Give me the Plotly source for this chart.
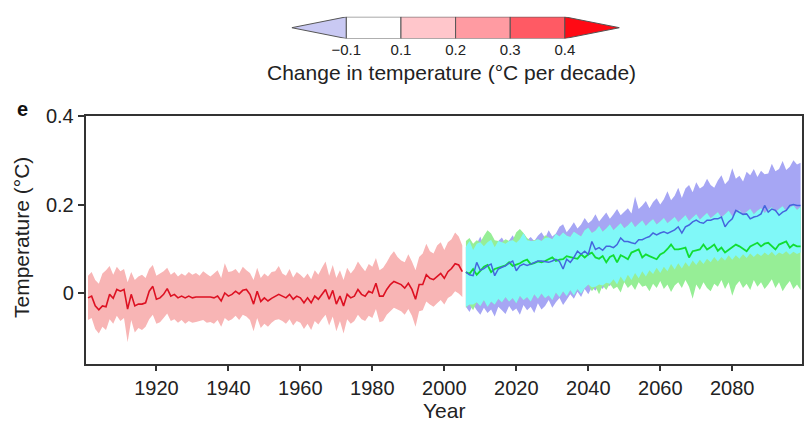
import numpy as np
import plotly.graph_objects as go

# ---------------------------------------------------------------- data
hist_years = list(range(1901, 2006))
hist_mean = [
    -0.010, -0.006, -0.028, -0.037, -0.028, -0.030, -0.002, -0.011, 0.009, 0.005,
    0.009, -0.035, -0.002, -0.028, -0.024, -0.024, -0.021, 0.005, 0.016, -0.013,
    -0.010, -0.002, 0.011, -0.006, -0.002, -0.010, -0.006, -0.010, -0.006, -0.010,
    -0.008, -0.008, -0.007, -0.008, -0.008, -0.010, -0.006, -0.017, 0.001, -0.006,
    -0.002, 0.005, -0.001, 0.007, 0.009, -0.002, -0.024, 0.005, -0.018, -0.010,
    -0.017, -0.011, -0.006, -0.002, -0.006, -0.010, -0.002, -0.013, -0.006, -0.010,
    -0.021, -0.010, -0.021, -0.006, -0.013, -0.002, 0.009, -0.013, 0.007, -0.024,
    -0.006, -0.028, -0.002, -0.010, -0.006, 0.009, -0.002, -0.006, 0.005, 0.001,
    0.023, -0.006, -0.006, 0.009, 0.020, 0.027, 0.023, 0.020, 0.012, 0.023,
    0.009, -0.013, 0.020, 0.020, 0.042, 0.034, 0.031, 0.038, 0.045, 0.034,
    0.049, 0.056, 0.067, 0.064, 0.049,
]
hist_hi = [
    0.040, 0.048, 0.030, 0.022, 0.045, 0.052, 0.062, 0.042, 0.060, 0.050,
    0.055, 0.025, 0.048, 0.030, 0.038, 0.042, 0.035, 0.055, 0.064, 0.040,
    0.045, 0.050, 0.058, 0.042, 0.048, 0.038, 0.045, 0.040, 0.048, 0.042,
    0.046, 0.040, 0.050, 0.044, 0.038, 0.045, 0.052, 0.035, 0.068, 0.048,
    0.050, 0.055, 0.045, 0.060, 0.052, 0.046, 0.030, 0.058, 0.035, 0.045,
    0.038, 0.048, 0.050, 0.062, 0.045, 0.040, 0.055, 0.036, 0.048, 0.042,
    0.034, 0.045, 0.032, 0.052, 0.042, 0.058, 0.072, 0.040, 0.064, 0.035,
    0.052, 0.030, 0.058, 0.045, 0.055, 0.072, 0.060, 0.050, 0.066, 0.060,
    0.080, 0.052, 0.058, 0.070, 0.085, 0.095, 0.082, 0.074, 0.070, 0.088,
    0.072, 0.052, 0.082, 0.090, 0.112, 0.095, 0.090, 0.108, 0.115, 0.098,
    0.115, 0.122, 0.137, 0.128, 0.108,
]
hist_lo = [
    -0.060, -0.055, -0.080, -0.090, -0.075, -0.082, -0.058, -0.068, -0.050, -0.062,
    -0.055, -0.110, -0.060, -0.088, -0.078, -0.082, -0.075, -0.058, -0.048, -0.068,
    -0.065, -0.055, -0.045, -0.062, -0.058, -0.066, -0.060, -0.068, -0.062, -0.066,
    -0.064, -0.062, -0.060, -0.066, -0.064, -0.068, -0.060, -0.075, -0.055, -0.062,
    -0.058, -0.050, -0.060, -0.048, -0.052, -0.060, -0.085, -0.055, -0.078, -0.068,
    -0.075, -0.066, -0.060, -0.058, -0.062, -0.068, -0.058, -0.072, -0.062, -0.066,
    -0.080, -0.068, -0.082, -0.062, -0.070, -0.058, -0.048, -0.072, -0.052, -0.085,
    -0.062, -0.090, -0.058, -0.068, -0.062, -0.048, -0.058, -0.062, -0.050, -0.055,
    -0.035, -0.065, -0.062, -0.048, -0.040, -0.032, -0.036, -0.040, -0.048, -0.035,
    -0.050, -0.075, -0.040, -0.038, -0.018, -0.025, -0.030, -0.022, -0.015, -0.025,
    -0.010, -0.005, 0.005, 0.000, -0.008,
]

proj_years = list(range(2006, 2100))
high_mean = [
    0.048, 0.042, 0.040, 0.070, 0.052, 0.056, 0.062, 0.066, 0.040, 0.055,
    0.059, 0.062, 0.068, 0.073, 0.051, 0.062, 0.066, 0.063, 0.066, 0.070,
    0.073, 0.073, 0.072, 0.070, 0.073, 0.077, 0.072, 0.055, 0.077, 0.070,
    0.081, 0.095, 0.088, 0.095, 0.088, 0.117, 0.099, 0.103, 0.097, 0.106,
    0.106, 0.103, 0.110, 0.125, 0.117, 0.117, 0.114, 0.112, 0.121, 0.121,
    0.125, 0.128, 0.136, 0.132, 0.136, 0.139, 0.135, 0.139, 0.143, 0.150,
    0.136, 0.150, 0.154, 0.161, 0.165, 0.160, 0.158, 0.165, 0.165, 0.168,
    0.168, 0.172, 0.150, 0.161, 0.168, 0.187, 0.183, 0.178, 0.179, 0.168,
    0.172, 0.174, 0.179, 0.198, 0.183, 0.190, 0.187, 0.176, 0.183, 0.187,
    0.198, 0.200, 0.198, 0.198,
]
high_hi = [
    0.105, 0.118, 0.098, 0.112, 0.128, 0.106, 0.115, 0.121, 0.104, 0.118,
    0.126, 0.112, 0.119, 0.131, 0.114, 0.122, 0.136, 0.120, 0.127, 0.118,
    0.130, 0.138, 0.125, 0.142, 0.128, 0.135, 0.150, 0.156, 0.138, 0.148,
    0.160, 0.146, 0.155, 0.170, 0.158, 0.165, 0.178, 0.162, 0.172, 0.182,
    0.168, 0.178, 0.190, 0.176, 0.184, 0.192, 0.180, 0.218, 0.190, 0.198,
    0.208, 0.192, 0.206, 0.214, 0.200, 0.212, 0.230, 0.210, 0.220, 0.238,
    0.215, 0.236, 0.244, 0.228, 0.250, 0.236, 0.242, 0.258, 0.244, 0.238,
    0.254, 0.266, 0.246, 0.255, 0.282, 0.258, 0.265, 0.252, 0.274, 0.266,
    0.280, 0.262, 0.276, 0.268, 0.270, 0.292, 0.275, 0.280, 0.298, 0.278,
    0.285, 0.300, 0.290, 0.294,
]
high_lo = [
    -0.030, -0.042, -0.025, -0.038, -0.048, -0.032, -0.044, -0.036, -0.052, -0.030,
    -0.038, -0.046, -0.028, -0.040, -0.034, -0.048, -0.026, -0.038, -0.030, -0.044,
    -0.022, -0.036, -0.028, -0.015, -0.032, -0.020, -0.010, -0.026, -0.014, -0.002,
    -0.012, 0.004, -0.008, 0.010, -0.002, 0.014, 0.006, 0.020, 0.010, 0.024,
    0.016, 0.032, 0.020, 0.038, 0.026, 0.042, 0.030, 0.046, 0.034, 0.050,
    0.038, 0.052, 0.044, 0.058, 0.046, 0.060, 0.050, 0.066, 0.054, 0.068,
    0.056, 0.070, 0.060, 0.074, 0.064, 0.076, 0.066, 0.078, 0.070, 0.082,
    0.072, 0.082, 0.074, 0.086, 0.076, 0.086, 0.078, 0.088, 0.080, 0.090,
    0.082, 0.090, 0.084, 0.092, 0.086, 0.094, 0.085, 0.092, 0.088, 0.095,
    0.087, 0.094, 0.089, 0.093,
]
low_mean = [
    0.048, 0.044, 0.055, 0.042, 0.051, 0.060, 0.064, 0.048, 0.055, 0.058,
    0.061, 0.063, 0.070, 0.062, 0.065, 0.068, 0.073, 0.076, 0.066, 0.068,
    0.072, 0.070, 0.073, 0.077, 0.081, 0.073, 0.076, 0.077, 0.084, 0.082,
    0.080, 0.078, 0.088, 0.081, 0.088, 0.092, 0.081, 0.078, 0.084, 0.070,
    0.082, 0.086, 0.070, 0.086, 0.082, 0.077, 0.092, 0.096, 0.099, 0.081,
    0.088, 0.084, 0.081, 0.077, 0.088, 0.092, 0.100, 0.110, 0.099, 0.099,
    0.101, 0.103, 0.081, 0.095, 0.097, 0.099, 0.110, 0.099, 0.104, 0.110,
    0.096, 0.103, 0.092, 0.098, 0.103, 0.110, 0.106, 0.100, 0.095, 0.106,
    0.110, 0.114, 0.106, 0.112, 0.114, 0.106, 0.099, 0.110, 0.114, 0.117,
    0.103, 0.110, 0.106, 0.106,
]
low_hi = [
    0.118, 0.125, 0.112, 0.120, 0.115, 0.130, 0.142, 0.135, 0.120, 0.118,
    0.115, 0.122, 0.118, 0.120, 0.138, 0.145, 0.136, 0.125, 0.118, 0.120,
    0.122, 0.118, 0.131, 0.126, 0.122, 0.134, 0.128, 0.137, 0.130, 0.127,
    0.139, 0.133, 0.128, 0.142, 0.148, 0.136, 0.141, 0.152, 0.139, 0.146,
    0.155, 0.142, 0.150, 0.158, 0.147, 0.153, 0.162, 0.149, 0.157, 0.164,
    0.152, 0.160, 0.167, 0.155, 0.162, 0.170, 0.158, 0.165, 0.172, 0.160,
    0.168, 0.176, 0.163, 0.171, 0.178, 0.166, 0.174, 0.181, 0.169, 0.176,
    0.183, 0.171, 0.178, 0.186, 0.174, 0.181, 0.188, 0.176, 0.184, 0.190,
    0.178, 0.186, 0.192, 0.181, 0.188, 0.194, 0.183, 0.190, 0.196, 0.185,
    0.193, 0.198, 0.188, 0.195,
]
low_lo = [
    -0.032, -0.025, -0.038, -0.020, -0.028, -0.015, -0.030, -0.018, -0.025, -0.012,
    -0.020, -0.008, -0.018, -0.010, -0.022, -0.005, -0.015, -0.008, -0.018, -0.002,
    -0.012, 0.000, -0.010, -0.004, -0.015, 0.002, -0.008, 0.005, -0.006, 0.008,
    -0.004, 0.010, 0.000, 0.012, 0.020, 0.005, 0.015, -0.002, 0.018, 0.008,
    0.022, 0.010, 0.015, 0.002, 0.025, 0.012, 0.020, 0.008, 0.025, 0.015,
    0.018, 0.005, 0.022, 0.012, 0.028, 0.010, 0.020, 0.003, 0.018, 0.025,
    0.012, 0.030, 0.015, -0.012, 0.020, 0.008, 0.025, 0.012, 0.005, 0.022,
    0.015, 0.030, 0.010, 0.025, -0.005, 0.018, 0.028, 0.012, 0.022, 0.008,
    0.030, 0.015, 0.025, 0.010, 0.020, 0.032, 0.012, 0.025, 0.005, 0.018,
    0.028, 0.010, 0.020, 0.008,
]

x_ticks = [1920, 1940, 1960, 1980, 2000, 2020, 2040, 2060, 2080]
y_ticks = [0, 0.2, 0.4]
y_tick_text = ["0", "0.2", "0.4"]

cbar_labels = ["\u22120.1", "0.1", "0.2", "0.3", "0.4"]
cbar_colors = ["#ffffff", "#ffc6cb", "#ff9ba2", "#ff5a64"]
cbar_under = "#c9c9f3"
cbar_over = "#ff0a14"

# ---------------------------------------------------------------- styling
FONT = "Liberation Sans, Arial, sans-serif"
INK = "#222222"
FRAME = "#333333"
W, H = 806, 426

PINK_BAND = "#f8b5b5"
RED_LINE = "#dd1122"
PURPLE_BAND = "#a6a6f4"
GREEN_BAND = "#96ee96"
CYAN_BAND = "#80f8f8"
BLUE_LINE = "#4466dd"
GREEN_LINE = "#11dd33"


def band(x, lo, hi, color):
    xs = list(x) + list(x)[::-1]
    ys = list(hi) + list(lo)[::-1]
    return go.Scatter(x=xs, y=ys, fill="toself", fillcolor=color, mode="none",
                      hoverinfo="skip", showlegend=False)


def line(x, y, color, width):
    return go.Scatter(x=x, y=y, mode="lines", line=dict(color=color, width=width),
                      hoverinfo="skip", showlegend=False)


fig = go.Figure()

# historical ensemble spread and mean
fig.add_trace(band(hist_years, hist_lo, hist_hi, PINK_BAND))
fig.add_trace(line(hist_years, hist_mean, RED_LINE, 1.6))

# projected spreads; the region shared by both scenarios is shown in cyan
fig.add_trace(band(proj_years, high_lo, high_hi, PURPLE_BAND))
fig.add_trace(band(proj_years, low_lo, low_hi, GREEN_BAND))
shared_lo = np.maximum(high_lo, low_lo)
shared_hi = np.minimum(high_hi, low_hi)
fig.add_trace(band(proj_years, shared_lo, shared_hi, CYAN_BAND))

fig.add_trace(line(proj_years, low_mean, GREEN_LINE, 1.8))
fig.add_trace(line(proj_years, high_mean, BLUE_LINE, 1.5))

# discrete colour key: under-triangle, boxes, over-triangle
n_box = len(cbar_colors)
fig.add_trace(go.Scatter(x=[0, -1, 0, 0], y=[0, 0.5, 1, 0], fill="toself",
                         fillcolor=cbar_under, mode="lines",
                         line=dict(color="#555555", width=1),
                         xaxis="x2", yaxis="y2", hoverinfo="skip", showlegend=False))
for i, c in enumerate(cbar_colors):
    fig.add_trace(go.Scatter(x=[i, i + 1, i + 1, i, i], y=[0, 0, 1, 1, 0],
                             fill="toself", fillcolor=c, mode="lines",
                             line=dict(color="#555555", width=1),
                             xaxis="x2", yaxis="y2", hoverinfo="skip",
                             showlegend=False))
fig.add_trace(go.Scatter(x=[n_box, n_box + 1, n_box, n_box], y=[0, 0.5, 1, 0],
                         fill="toself", fillcolor=cbar_over, mode="lines",
                         line=dict(color="#555555", width=1),
                         xaxis="x2", yaxis="y2", hoverinfo="skip", showlegend=False))

px_l, px_r, px_t, px_b = 85.5, 801.7, 107.5, 362.0

fig.update_layout(
    width=W, height=H,
    margin=dict(l=0, r=0, t=0, b=0),
    paper_bgcolor="white", plot_bgcolor="white",
    font=dict(family=FONT, color=INK),
    showlegend=False,
    xaxis=dict(
        domain=[px_l / W, px_r / W], range=[1900.3, 2099.3],
        tickvals=x_ticks, ticks="outside", ticklen=6, tickwidth=1.5,
        tickcolor=FRAME, showline=True, mirror=True, linecolor=FRAME,
        linewidth=1.5, showgrid=False, zeroline=False,
        tickfont=dict(size=20, color=INK), anchor="y",
    ),
    yaxis=dict(
        domain=[(H - px_b) / H, (H - px_t) / H], range=[-0.158, 0.4],
        tickvals=y_ticks, ticktext=y_tick_text, ticks="outside", ticklen=6,
        tickwidth=1.5, tickcolor=FRAME, showline=True, mirror=True,
        linecolor=FRAME, linewidth=1.5, showgrid=False, zeroline=False,
        tickfont=dict(size=20, color=INK), anchor="x",
    ),
    xaxis2=dict(
        domain=[291.7 / W, 619.5 / W], range=[-1, n_box + 1], anchor="y2",
        tickvals=list(range(len(cbar_labels))), ticktext=cbar_labels,
        ticks="", showline=False, showgrid=False, zeroline=False,
        tickfont=dict(size=15, color=INK),
    ),
    yaxis2=dict(
        domain=[(H - 28.3) / H, (H - 6) / H], range=[0, 1], anchor="x2",
        visible=False,
    ),
    annotations=[
        dict(text="Change in temperature (\u00b0C per decade)", x=451 / W,
             y=(H - 63) / H, xref="paper", yref="paper", showarrow=False,
             xanchor="center", yanchor="middle", font=dict(size=21, color=INK)),
        dict(text="Year", x=0.5, xref="x domain", y=(H - 410) / H, yref="paper",
             showarrow=False, xanchor="center", yanchor="middle",
             font=dict(size=21, color=INK)),
        dict(text="Temperature (\u00b0C)", x=22 / W, y=(H - 233) / H,
             xref="paper", yref="paper", showarrow=False, textangle=-90,
             xanchor="center", yanchor="middle", font=dict(size=21, color=INK)),
        dict(text="<b>e</b>", x=22 / W, y=(H - 101) / H, xref="paper",
             yref="paper", showarrow=False, xanchor="center", yanchor="middle",
             font=dict(size=20, color="#111111")),
    ],
)

fig.write_html("out.html")
